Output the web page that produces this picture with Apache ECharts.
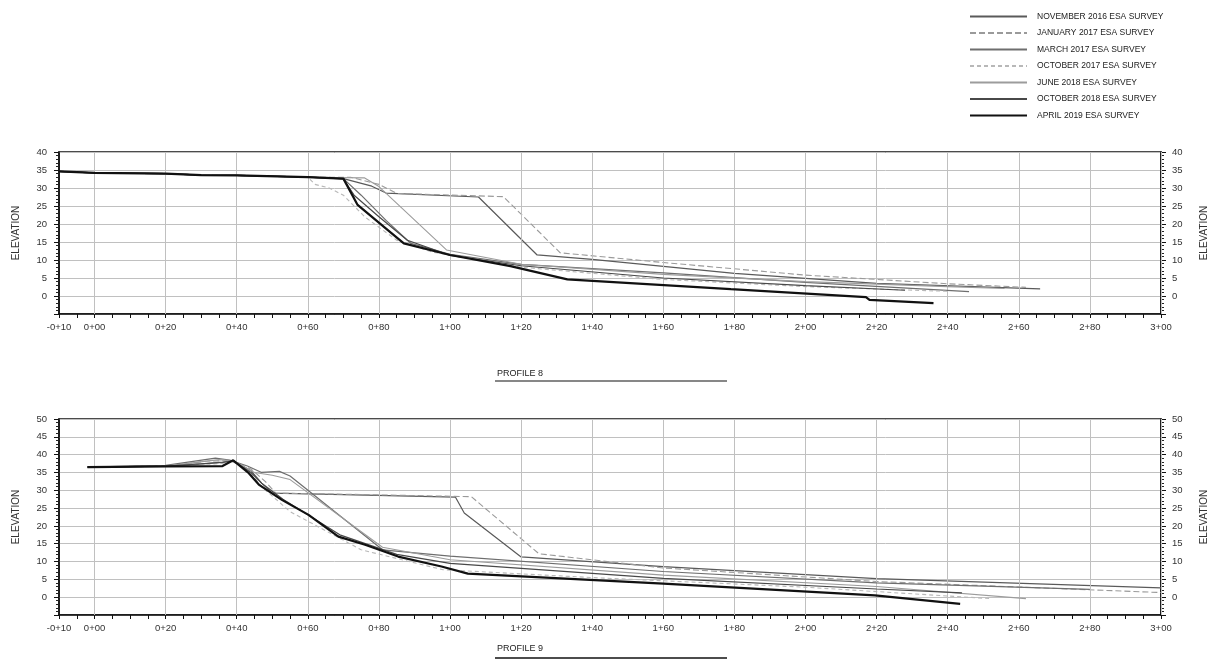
<!DOCTYPE html>
<html>
<head>
<meta charset="utf-8">
<script src="https://cdn.jsdelivr.net/npm/echarts@6/dist/echarts.min.js"></script>
<style>
html,body{margin:0;padding:0;background:#fff;}
#chart{width:1217px;height:662px;}
</style>
</head>
<body>
<div id="chart"></div>
<script>
// ---------- DATA ----------
const surveyNames = [
  'NOVEMBER 2016 ESA SURVEY',
  'JANUARY 2017 ESA SURVEY',
  'MARCH 2017 ESA SURVEY',
  'OCTOBER 2017 ESA SURVEY',
  'JUNE 2018 ESA SURVEY',
  'OCTOBER 2018 ESA SURVEY',
  'APRIL 2019 ESA SURVEY'
];
const gridStations = [0,20,40,60,80,100,120,140,160,180,200,220,240,260,280,300];

// PROFILE 8  [station, elevation]
const p8_nov2016 = [[-10,34.6],[0,34.2],[20,34],[30,33.6],[40,33.5],[60,33],[70,32.6],[78,30.5],[82,28.6],[108,27.5],[124.5,11.4],[140,10.2],[180,6.3],[220,3.5],[266,2.0]];
const p8_jan2017 = [[-10,34.6],[0,34.2],[20,34],[30,33.6],[40,33.5],[60,33],[72,33],[80,31],[85,28.5],[115,27.6],[131,12],[160,9.3],[200,5.8],[240,3.4],[262,2.4]];
const p8_mar2017 = [[-10,34.6],[0,34.2],[20,34],[30,33.6],[40,33.5],[60,33],[70,32.6],[75,28],[82,21],[89,14.6],[100,11.6],[120,8.8],[160,6.4],[200,3.8],[246,1.2]];
const p8_oct2017 = [[-10,34.6],[0,34.2],[20,34],[30,33.6],[40,33.5],[60,33],[62,31],[66,30],[70,28],[76,22],[85,15.5],[95,12.2],[120,8],[160,4.6],[200,2.6],[240,1.3]];
const p8_jun2018 = [[-10,34.6],[0,34.2],[20,34],[30,33.6],[40,33.5],[60,33],[76,32.8],[80,30.4],[99,12.8],[120,8.8],[160,6],[200,4],[240,2.6],[256,2.1]];
const p8_oct2018 = [[-10,34.6],[0,34.2],[20,34],[30,33.6],[40,33.5],[60,33],[70,32.5],[73,28],[80,22],[88,15.5],[100,11.3],[120,8.4],[160,5],[200,2.9],[228,1.6]];
const p8_apr2019 = [[-10,34.6],[0,34.2],[20,34],[30,33.6],[40,33.5],[60,33],[70,32.6],[74,25.3],[82.5,18.3],[87,14.6],[100,11.4],[117,8.3],[133,4.6],[179,1.9],[217,-0.3],[218,-1.1],[236,-2]];

// PROFILE 9  [station, elevation]
const p9_nov2016 = [[-2,36.5],[20,36.8],[30,37.4],[36,37.9],[39,38.3],[44,35.5],[47,32],[50,29.2],[70,28.8],[101.5,28.1],[104,23.6],[120,11.3],[160,8.6],[220,5.2],[300,2.6]];
const p9_jan2017 = [[-2,36.5],[20,36.8],[32,38.2],[38,38.3],[44,36],[48,32.5],[51,29.2],[70,28.9],[106,28.2],[125,12.2],[160,8.2],[220,4.4],[300,1.3]];
const p9_mar2017 = [[-2,36.5],[20,37],[34,39],[38,38.5],[43,36.8],[47,35],[52,35.3],[55,34],[81,13.3],[100,11.5],[160,7.2],[220,4],[280,2.2]];
const p9_oct2017 = [[-2,36.5],[20,36.8],[36,37.5],[39,38.3],[43,36],[47,31],[55,24],[75,13.3],[98,7.7],[140,5.5],[200,2.8],[252,-0.4]];
const p9_jun2018 = [[-2,36.5],[20,36.8],[35,38.6],[39,38.3],[45,35],[50,34.2],[55,33],[81,14],[100,10.5],[160,6.2],[220,3],[262,-0.4]];
const p9_oct2018 = [[-2,36.5],[20,36.8],[36,37.8],[39,38.3],[44,35],[47,32],[53,27.5],[69,17.5],[85,12],[100,9.5],[160,5.3],[220,2.3],[244,1.2]];
const p9_apr2019 = [[-2,36.5],[20,36.7],[36,36.8],[39,38.4],[43.4,34.8],[46.2,31.6],[52.7,27.3],[60.2,23.1],[68.6,17],[76.1,14.7],[85.4,11.4],[97.6,8.6],[105,6.6],[160,3.8],[219.5,0.5],[243.5,-1.9]];

const profile8 = [p8_nov2016,p8_jan2017,p8_mar2017,p8_oct2017,p8_jun2018,p8_oct2018,p8_apr2019];
const profile9 = [p9_nov2016,p9_jan2017,p9_mar2017,p9_oct2017,p9_jun2018,p9_oct2018,p9_apr2019];

// ---------- STYLE ----------
const lineStyles = [
  {color:'#5a5a5a', width:1.2, type:'solid'},
  {color:'#9a9a9a', width:1.1, type:[6,3]},
  {color:'#6e6e6e', width:1.2, type:'solid'},
  {color:'#b8b8b8', width:1.1, type:[4,3]},
  {color:'#9c9c9c', width:1.1, type:'solid'},
  {color:'#484848', width:1.2, type:'solid'},
  {color:'#111111', width:2.2, type:'solid'}
];
const FONT = 'Liberation Sans, Arial, sans-serif';
const txtColor = '#333';

function station(v){
  if (v < 0) return '-0+' + String(-v).padStart(2,'0');
  const h = Math.floor(v/100), r = v % 100;
  return h + '+' + String(r).padStart(2,'0');
}

function xAxisFor(gi){
  return {
    type:'value', gridIndex:gi, min:-10, max:300, interval:5,
    axisLine:{show:true, onZero:false, lineStyle:{color:'#111', width:1.5}},
    axisTick:{show:true, length:4, lineStyle:{color:'#111', width:1}},
    axisLabel:{
      show:true, margin:8, fontSize:9.5, color:txtColor, fontFamily:FONT,
      formatter:function(v){ return (v===-10 || (v%20===0)) ? station(v) : ''; }
    },
    splitLine:{show:false}
  };
}
function yAxisFor(gi, max, pos){
  return {
    type:'value', gridIndex:gi, min:-5, max:max, interval:5, position:pos,
    name:'ELEVATION', nameLocation:'middle', nameGap: pos==='left' ? 38 : 38, nameRotate:90,
    nameTextStyle:{fontSize:10, color:txtColor, fontFamily:FONT},
    axisLine:{show:true, onZero:false, lineStyle:{color:'#111', width:1.5}},
    axisTick:{show:true, length:5, lineStyle:{color:'#111', width:1}},
    minorTick:{show:true, splitNumber:5, length:3, lineStyle:{color:'#222', width:1}},
    axisLabel:{
      show:true, margin:pos==='left'?12:11, fontSize:9.5, color:txtColor, fontFamily:FONT,
      formatter:function(v){ return v < 0 ? '' : String(v); }
    },
    splitLine:{show: pos==='left', lineStyle:{color:'#c0c0c0', width:1}}
  };
}

const series = [];
function addProfile(data, gi, yIdx){
  // vertical gridlines at each station
  series.push({
    type:'line', name:'grid'+gi, xAxisIndex:gi, yAxisIndex:yIdx, data:[], silent:true, z:1,
    markLine:{
      silent:true, symbol:['none','none'], label:{show:false},
      lineStyle:{color:'#c0c0c0', width:1, type:'solid'},
      data: gridStations.map(s => ({xAxis:s}))
    }
  });
  data.forEach((d,i) => {
    series.push({
      type:'line', name:surveyNames[i], xAxisIndex:gi, yAxisIndex:yIdx,
      data:d, showSymbol:false, symbol:'none', smooth:false, z:3+i,
      lineStyle:lineStyles[i], itemStyle:{color:lineStyles[i].color},
      animation:false
    });
  });
}
addProfile(profile8, 0, 0);
addProfile(profile9, 1, 2);

const option = {
  backgroundColor:'#fff',
  animation:false,
  grid:[
    {left:59, right:51, top:152, height:162, show:true, borderColor:'#111', borderWidth:1.5, backgroundColor:'transparent'},
    {left:59, right:51, top:419, height:196, show:true, borderColor:'#111', borderWidth:1.5, backgroundColor:'transparent'}
  ],
  xAxis:[xAxisFor(0), xAxisFor(1)],
  yAxis:[yAxisFor(0,40,'left'), yAxisFor(0,40,'right'), yAxisFor(1,50,'left'), yAxisFor(1,50,'right')],
  legend:{
    show:true,
    data:surveyNames,
    orient:'vertical', left:964, top:7,
    itemWidth:57, itemHeight:10, itemGap:7.5,
    itemStyle:{opacity:0},
    textStyle:{fontSize:8.5, color:'#222', fontFamily:FONT, padding:[0,0,0,5]},
    selectedMode:false
  },
  graphic:[
    {type:'text', left:497, top:369, style:{text:'PROFILE 8', fontSize:9, fill:'#222', fontFamily:FONT}},
    {type:'line', shape:{x1:495, y1:381, x2:727, y2:381}, style:{stroke:'#111', lineWidth:1.2}},
    {type:'text', left:497, top:644, style:{text:'PROFILE 9', fontSize:9, fill:'#222', fontFamily:FONT}},
    {type:'line', shape:{x1:495, y1:658, x2:727, y2:658}, style:{stroke:'#111', lineWidth:1.5}}
  ],
  series:series
};
const chart = echarts.init(document.getElementById('chart'), null, {renderer:'canvas'});
chart.setOption(option);
</script>
</body>
</html>
